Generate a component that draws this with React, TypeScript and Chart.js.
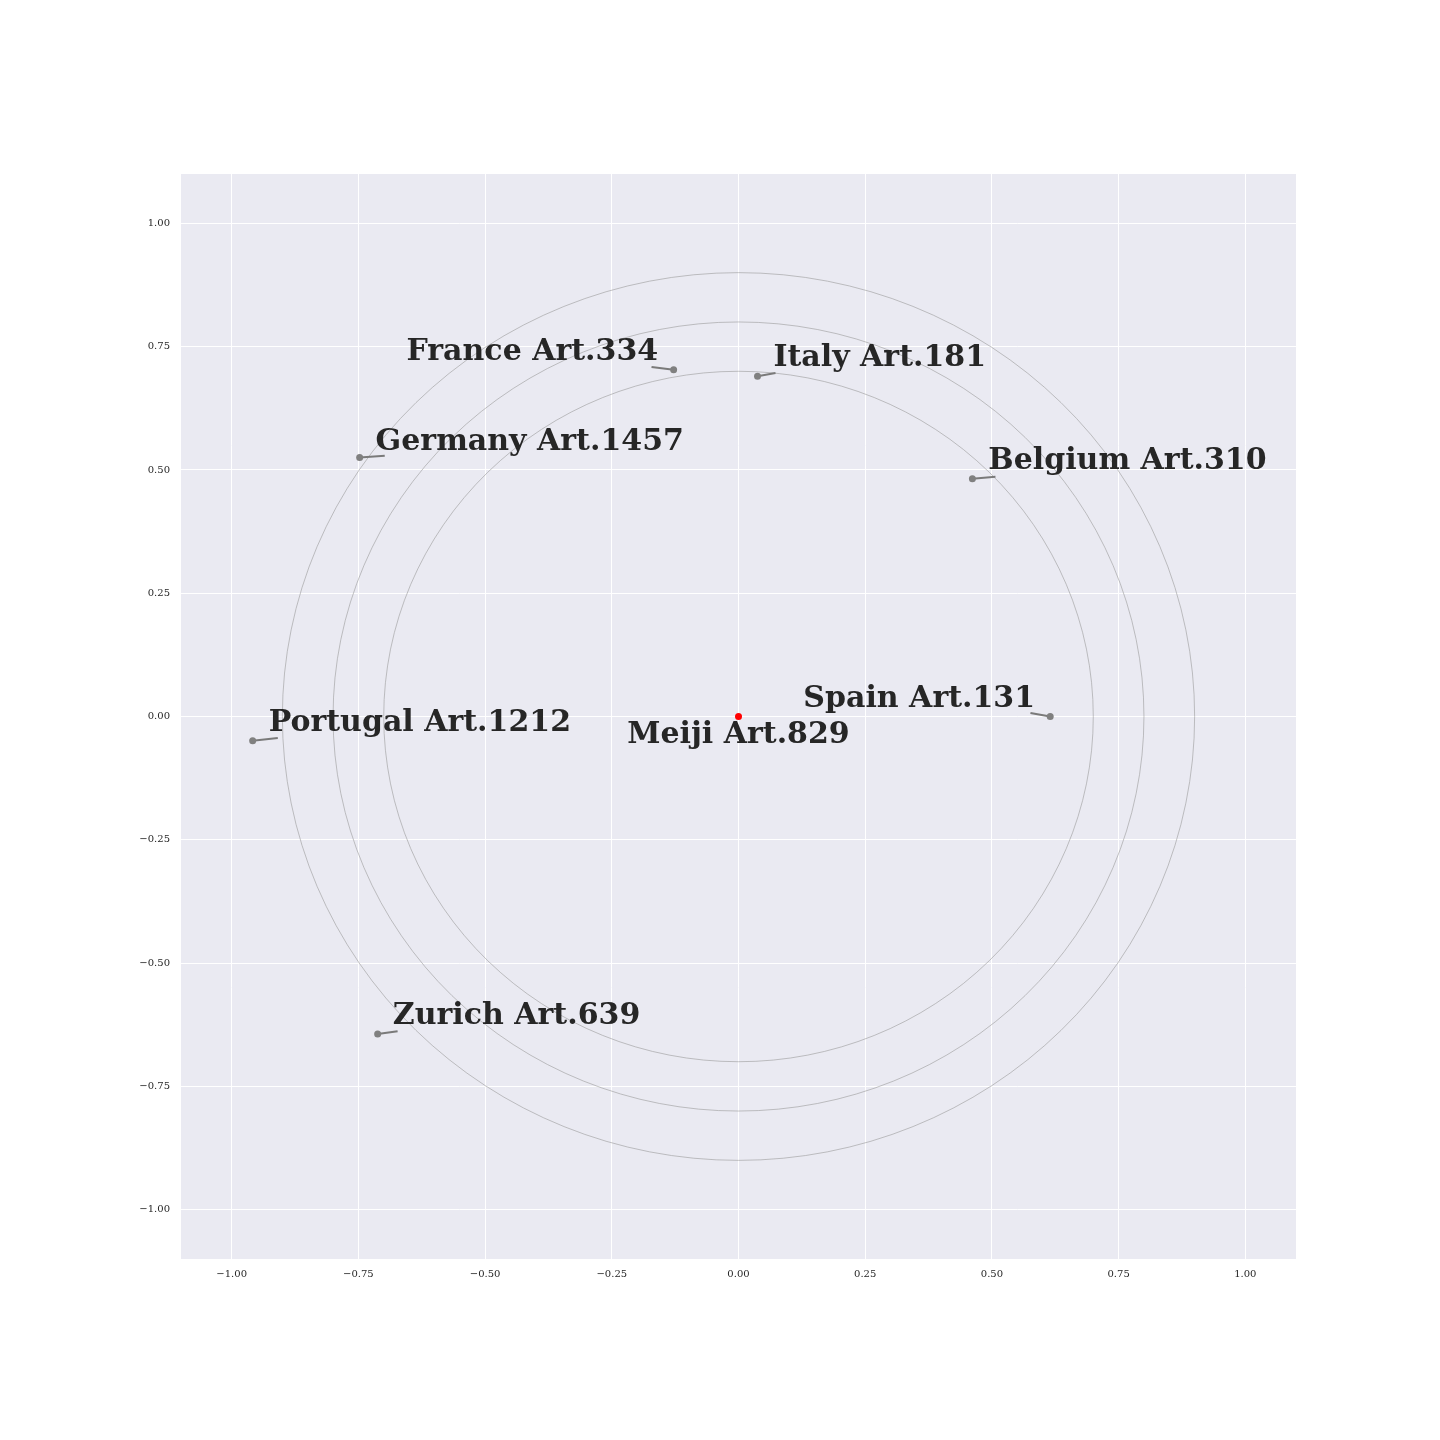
import React, { useEffect, useRef } from "react";
import { Chart, registerables } from "chart.js";

Chart.register(...registerables);

// Data
const names = ["Spain Art.131", "Italy Art.181", "France Art.334", "Belgium Art.310", "Germany Art.1457", "Portugal Art.1212", "Zurich Art.639"];
const xs = [0.615, 0.0375, -0.128, 0.4615, -0.7475, -0.9586, -0.712];
const ys = [0.0, 0.69, 0.703, 0.482, 0.525, -0.049, -0.644];
// label anchors (left edge, vertical middle) in data units
const labelXs = [0.128, 0.069, -0.655, 0.493, -0.716, -0.927, -0.682];
const labelYs = [0.0354, 0.727, 0.739, 0.517, 0.557, -0.0131, -0.6077];
// connector line ends in data units
const lineXs = [0.576, 0.073, -0.1716, 0.507, -0.698, -0.909, -0.6726];
const lineYs = [0.007, 0.6967, 0.7088, 0.4863, 0.5288, -0.0435, -0.638];
const centerName = "Meiji Art.829";
const centerX = [0];
const centerY = [0];
const centerLabelY = -0.0374;
const rings = [0.7, 0.8, 0.9];
const tickValues = [-1, -0.75, -0.5, -0.25, 0, 0.25, 0.5, 0.75, 1];

const fmt = (v: number) => (v < 0 ? "\u2212" + Math.abs(v).toFixed(2) : v.toFixed(2));

export default function App() {
  const ref = useRef<HTMLCanvasElement | null>(null);
  useEffect(() => {
    if (!ref.current) return;
    const bg = {
      id: "bg",
      beforeDraw(chart: any) {
        const { ctx, chartArea: a } = chart;
        ctx.save();
        ctx.fillStyle = "#EAEAF2";
        ctx.fillRect(a.left, a.top, a.right - a.left, a.bottom - a.top);
        ctx.restore();
      },
      beforeDatasetsDraw(chart: any) {
        const { ctx } = chart;
        const sx = chart.scales.x, sy = chart.scales.y;
        const cx = sx.getPixelForValue(0), cy = sy.getPixelForValue(0);
        ctx.save();
        ctx.strokeStyle = "#9a9a9a";
        ctx.lineWidth = 0.6;
        rings.forEach((r) => {
          const rx = sx.getPixelForValue(r) - cx;
          const ry = cy - sy.getPixelForValue(r);
          ctx.beginPath();
          ctx.ellipse(cx, cy, rx, ry, 0, 0, Math.PI * 2);
          ctx.stroke();
        });
        ctx.strokeStyle = "#7a7a7a";
        ctx.lineWidth = 2;
        xs.forEach((x, i) => {
          ctx.beginPath();
          ctx.moveTo(sx.getPixelForValue(x), sy.getPixelForValue(ys[i]));
          ctx.lineTo(sx.getPixelForValue(lineXs[i]), sy.getPixelForValue(lineYs[i]));
          ctx.stroke();
        });
        ctx.restore();
      },
      afterDatasetsDraw(chart: any) {
        const { ctx } = chart;
        const sx = chart.scales.x, sy = chart.scales.y;
        ctx.save();
        ctx.fillStyle = "#262626";
        ctx.font = "bold 30px 'DejaVu Serif'";
        ctx.textBaseline = "middle";
        ctx.textAlign = "left";
        names.forEach((n, i) => {
          ctx.fillText(n, sx.getPixelForValue(labelXs[i]), sy.getPixelForValue(labelYs[i]));
        });
        ctx.textAlign = "center";
        ctx.fillText(centerName, sx.getPixelForValue(centerX[0]), sy.getPixelForValue(centerLabelY));
        ctx.restore();
      },
    };
    const scaleCommon = (axis: "x" | "y") => ({
      type: "linear" as const,
      min: -1.1,
      max: 1.1,
      afterBuildTicks(scale: any) {
        scale.ticks = tickValues.map((v) => ({ value: v }));
      },
      afterFit(scale: any) {
        if (axis === "y") scale.width = 181;
        else scale.height = 181;
      },
      grid: { color: "#ffffff", lineWidth: 1, drawTicks: false },
      border: { display: false },
      ticks: {
        color: "#262626",
        font: { family: "'DejaVu Serif'", size: 10 },
        padding: axis === "y" ? 11 : 9,
        callback: (v: any) => fmt(Number(v)),
      },
    });
    const chart = new Chart(ref.current, {
      type: "scatter",
      data: {
        datasets: [
          {
            data: xs.map((x, i) => ({ x, y: ys[i] })),
            backgroundColor: "#808080",
            borderColor: "#808080",
            pointRadius: 3.5,
            borderWidth: 0,
          },
          {
            data: centerX.map((x, i) => ({ x, y: centerY[i] })),
            backgroundColor: "#ff0000",
            borderColor: "#ff0000",
            pointRadius: 3.5,
            borderWidth: 0,
          },
        ],
      },
      options: {
        animation: false,
        responsive: true,
        maintainAspectRatio: false,
        layout: { padding: { left: 0, right: 144, top: 174, bottom: 0 } },
        plugins: { legend: { display: false }, tooltip: { enabled: false } },
        scales: { x: scaleCommon("x"), y: scaleCommon("y") },
      },
      plugins: [bg],
    });
    return () => chart.destroy();
  }, []);
  return (
    <div style={{ position: "fixed", left: 0, top: 0, width: 1440, height: 1440, background: "#fff" }}>
      <canvas ref={ref} />
    </div>
  );
}
